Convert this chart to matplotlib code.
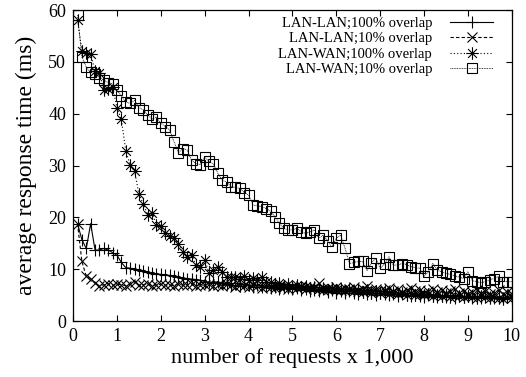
import numpy as np
import matplotlib
matplotlib.use('Agg')
import matplotlib.pyplot as plt
from matplotlib.path import Path

# requests (x 1,000), one sample every 100 requests
requests = np.round(np.arange(1, 101) * 0.1, 1)

lan_lan_100 = [18.8, 15.7, 14.0, 18.8, 13.7, 13.7, 14.0, 13.7, 13.2, 12.7,
               11.3, 10.3, 10.2, 10.0, 9.8, 9.7, 9.5, 9.3, 9.1, 9.0,
               8.9, 8.8, 8.6, 8.4, 8.3, 8.2, 8.1, 8.0, 7.9, 7.6,
               7.5, 7.4, 7.6, 7.3, 7.2, 7.0, 7.3, 6.8, 7.1, 6.9,
               6.6, 7.0, 6.5, 6.8, 6.4, 6.6, 6.2, 6.5, 6.3, 6.1,
               6.4, 5.9, 6.2, 5.8, 6.0, 5.7, 6.1, 5.6, 5.9, 5.5,
               5.8, 5.4, 5.7, 5.5, 5.3, 5.6, 5.2, 5.5, 5.1, 5.4,
               5.2, 5.0, 5.3, 4.9, 5.2, 5.0, 4.8, 5.1, 4.9, 4.7,
               5.0, 4.8, 4.6, 4.9, 4.7, 5.0, 4.5, 4.8, 4.6, 4.9,
               4.5, 4.7, 4.4, 4.8, 4.6, 4.5, 4.7, 4.4, 4.6, 4.5]

lan_lan_10 = [18.8, 11.5, 8.6, 8.2, 7.3, 6.8, 7.0, 7.2, 6.9, 7.1,
              7.0, 6.8, 7.1, 7.6, 6.9, 7.0, 7.2, 6.8, 7.0, 7.1,
              6.9, 7.0, 6.8, 7.2, 6.9, 7.0, 7.1, 6.8, 7.0, 6.9,
              7.2, 6.8, 7.0, 6.7, 7.1, 6.9, 6.6, 7.0, 6.8, 6.5,
              6.9, 6.7, 6.4, 6.8, 6.6, 6.3, 6.7, 6.5, 6.2, 6.6,
              6.4, 6.8, 6.1, 6.5, 6.3, 7.4, 6.0, 6.4, 6.2, 6.6,
              5.9, 6.3, 6.1, 6.5, 5.8, 6.2, 6.8, 5.9, 6.1, 5.7,
              6.0, 6.4, 5.8, 6.1, 5.6, 5.9, 6.3, 5.7, 6.0, 5.5,
              5.8, 6.2, 5.6, 5.9, 5.4, 5.7, 6.1, 5.5, 5.8, 5.3,
              5.6, 6.0, 5.4, 5.7, 5.2, 5.5, 5.9, 5.3, 5.6, 5.2]

lan_wan_100 = [58.1, 52.2, 51.7, 51.5, 48.3, 47.9, 44.6, 44.7, 45.1, 41.2,
               38.9, 32.9, 30.1, 29.0, 24.5, 22.6, 20.5, 20.8, 18.6, 18.3,
               16.9, 16.4, 16.1, 14.9, 13.4, 12.4, 12.7, 10.8, 10.5, 11.8,
               9.3, 9.8, 10.5, 9.5, 8.5, 8.4, 8.5, 8.2, 8.6, 8.0,
               8.3, 7.9, 8.4, 7.6, 7.5, 7.0, 7.3, 6.8, 7.1, 6.6,
               6.9, 6.5, 6.8, 6.3, 6.6, 6.1, 6.4, 6.0, 6.3, 5.9,
               6.2, 5.8, 6.1, 5.7, 6.0, 5.6, 5.9, 5.5, 5.8, 5.4,
               5.7, 5.3, 5.6, 5.2, 5.5, 5.1, 5.4, 5.0, 5.3, 5.0,
               5.2, 4.9, 5.1, 4.8, 5.0, 4.7, 4.9, 4.8, 4.6, 4.9,
               4.7, 4.5, 4.8, 4.6, 4.4, 4.7, 4.5, 4.3, 4.6, 4.4]

lan_wan_10 = [59.0, 51.0, 49.0, 48.0, 47.7, 47.0, 46.5, 46.0, 45.8, 44.5,
              43.5, 42.3, 42.0, 42.6, 41.2, 40.8, 39.8, 39.0, 39.4, 38.2,
              37.5, 36.9, 34.6, 32.5, 33.3, 33.0, 31.0, 30.4, 30.2, 31.7,
              30.8, 30.3, 28.5, 27.2, 26.8, 25.9, 25.8, 25.6, 24.8, 24.3,
              22.4, 22.2, 22.1, 21.7, 21.2, 20.1, 18.9, 17.9, 17.6, 17.6,
              17.9, 17.2, 16.9, 17.2, 17.6, 16.0, 16.6, 15.5, 14.3, 16.0,
              16.6, 14.0, 11.1, 11.3, 11.5, 11.5, 9.7, 11.2, 12.1, 10.2,
              11.0, 12.4, 10.8, 10.8, 11.1, 10.9, 10.5, 10.3, 10.2, 8.6,
              9.5, 11.1, 9.8, 9.5, 9.2, 9.0, 8.7, 8.5, 8.2, 9.5,
              7.8, 7.6, 7.4, 7.6, 8.0, 8.2, 8.6, 7.6, 7.6, 7.6]

labels = ['LAN-LAN;100% overlap', 'LAN-LAN;10% overlap',
          'LAN-WAN;100% overlap', 'LAN-WAN;10% overlap']

plt.rcParams['font.family'] = 'Liberation Serif'

# gnuplot style asterisk: plus and cross on top of each other
s = 0.7071
star = Path([(-1, 0), (1, 0), (0, -1), (0, 1), (-s, -s), (s, s), (-s, s), (s, -s)],
            [Path.MOVETO, Path.LINETO] * 4)

fig = plt.figure(figsize=(5.26, 3.77), dpi=100)
ax = fig.add_axes([0.139, 0.1485, 0.834, 0.8245])

lw = 0.8
ax.plot(requests, lan_lan_100, color='k', lw=lw, ls='-',
        marker='+', ms=9, mew=lw, label=labels[0])
ax.plot(requests, lan_lan_10, color='k', lw=lw, ls=(0, (3, 2)),
        marker='x', ms=7, mew=lw, label=labels[1])
ax.plot(requests, lan_wan_100, color='k', lw=lw, ls=(0, (1, 2)),
        marker=star, ms=9, mew=lw, label=labels[2])
ax.plot(requests, lan_wan_10, color='k', lw=0.6, ls=(0, (1, 1)),
        marker='s', ms=7.5, mew=lw, mfc='none', label=labels[3])

ax.set_xlim(0, 10)
ax.set_ylim(0, 60)
ax.set_xticks(range(0, 11))
ax.set_yticks(range(0, 61, 10))
ax.tick_params(direction='in', top=True, right=True, length=4, width=0.8,
               labelsize=13, pad=5)
for sp in ax.spines.values():
    sp.set_linewidth(0.9)

ax.set_xlabel('number of requests x 1,000', fontsize=16, labelpad=2)
ax.set_ylabel('average response time (ms)', fontsize=17, labelpad=8)

ax.legend(loc='upper right', bbox_to_anchor=(0.968, 0.993), frameon=False,
          markerfirst=False, fontsize=10.5, handlelength=3.0,
          handletextpad=1.2, labelspacing=0.15, borderaxespad=0.0,
          borderpad=0.3)

fig.savefig('out.png', dpi=100)
